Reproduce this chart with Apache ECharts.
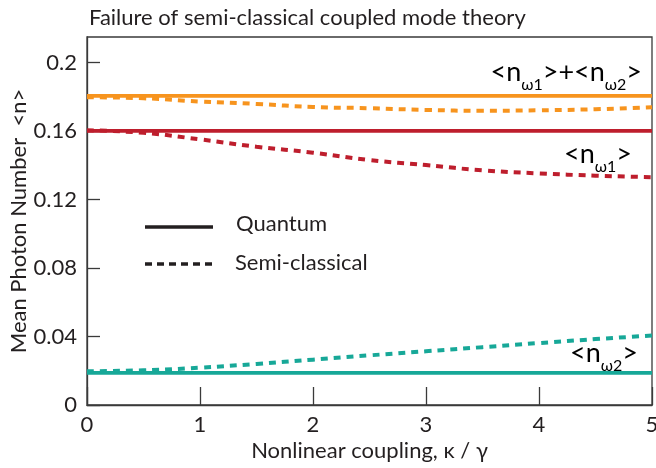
<!DOCTYPE html>
<html>
<head>
<meta charset="utf-8">
<script src="https://cdn.jsdelivr.net/npm/echarts@6/dist/echarts.min.js"></script>
<style>
  html, body { margin: 0; padding: 0; background: #fff; }
  #chart { width: 656px; height: 468px; }
</style>
</head>
<body>
<div id="chart"></div>
<script>
// coupling strength kappa / gamma
const kappa = [0, 0.5, 1, 1.5, 2, 2.5, 3, 3.5, 4, 4.5, 5];

// quantum results (flat)
const sumQuantum = [0.1806, 0.1806, 0.1806, 0.1806, 0.1806, 0.1806, 0.1806, 0.1806, 0.1806, 0.1806, 0.1806];
const n1Quantum  = [0.1601, 0.1601, 0.1601, 0.1601, 0.1601, 0.1601, 0.1601, 0.1601, 0.1601, 0.1601, 0.1601];
const n2Quantum  = [0.0188, 0.0188, 0.0188, 0.0188, 0.0188, 0.0188, 0.0188, 0.0188, 0.0188, 0.0188, 0.0188];

// semi-classical results
const sumSemi = [0.1798, 0.1792, 0.1773, 0.1759, 0.1741, 0.1734, 0.1724, 0.1719, 0.1722, 0.1728, 0.1740];
const n1Semi  = [0.1605, 0.1590, 0.1552, 0.1509, 0.1474, 0.1431, 0.1402, 0.1371, 0.1353, 0.1340, 0.1331];
const n2Semi  = [0.0197, 0.0203, 0.0218, 0.0240, 0.0265, 0.0290, 0.0314, 0.0338, 0.0362, 0.0385, 0.0406];

const yTicks = [0, 0.04, 0.08, 0.12, 0.16, 0.2];

const ORANGE = '#f7941e';
const RED = '#be1e2d';
const TEAL = '#17a898';
const INK = '#231f20';
const AXIS = '#3a3a3a';
const FONT = 'Lato';
const FS = 22;

const pairs = (ys) => kappa.map((k, i) => [k, ys[i]]);

const solid = (name, color, ys) => ({
  name: name, type: 'line', data: pairs(ys),
  showSymbol: false, silent: true, z: 3,
  lineStyle: { color: color, width: 3.8 }
});
const dashed = (name, color, ys) => ({
  name: name, type: 'line', data: pairs(ys), smooth: true,
  showSymbol: false, silent: true, z: 4,
  lineStyle: { color: color, width: 4, type: [7, 6] }
});

// rich text for the <n_ω> labels, subscript sits low
const richLabel = (color) => ({
  m: { fontFamily: FONT, fontSize: 27, color: color, lineHeight: 42 },
  s: { fontFamily: FONT, fontSize: 16, color: color, lineHeight: 16, verticalAlign: 'bottom' }
});

const myChart = echarts.init(document.getElementById('chart'));

const option = {
  animation: false,
  title: {
    text: 'Failure of semi-classical coupled mode theory',
    left: 84, top: 2,
    textStyle: { fontFamily: FONT, fontSize: FS, fontWeight: 'normal', color: INK }
  },
  grid: {
    left: 87, right: 4, top: 37, bottom: 63,
    outerBoundsMode: 'none',
    show: true, borderColor: AXIS, borderWidth: 1.3
  },
  xAxis: {
    type: 'value', min: 0, max: 5, interval: 1,
    name: 'Nonlinear coupling, κ / γ',
    nameLocation: 'middle', nameGap: 35,
    nameMoveOverlap: false,
    nameTextStyle: { fontFamily: FONT, fontSize: FS, color: INK },
    axisLine: { show: true, lineStyle: { color: AXIS, width: 1.3 } },
    axisTick: { show: true, inside: true, length: 18, lineStyle: { color: AXIS, width: 1.3 } },
    axisLabel: { fontFamily: FONT, fontSize: FS, color: INK, margin: 9 },
    splitLine: { show: false }
  },
  yAxis: {
    type: 'value', min: 0, max: 0.215, interval: 0.04,
    name: 'Mean Photon Number  <n>',
    nameLocation: 'middle', nameGap: 57,
    nameMoveOverlap: false,
    nameTextStyle: { fontFamily: FONT, fontSize: FS, color: INK },
    axisLine: { show: true, lineStyle: { color: AXIS, width: 1.3 } },
    axisTick: { show: true, inside: true, length: 13, lineStyle: { color: AXIS, width: 1.3 } },
    axisLabel: {
      fontFamily: FONT, fontSize: FS, color: INK, margin: 10,
      showMaxLabel: false,
      formatter: (v) => {
        const t = yTicks.find((y) => Math.abs(y - v) < 1e-9);
        return t === undefined ? '' : String(t);
      }
    },
    splitLine: { show: false }
  },
  series: [
    solid('sumQ', ORANGE, sumQuantum),
    solid('n1Q', RED, n1Quantum),
    solid('n2Q', TEAL, n2Quantum),
    dashed('sumS', ORANGE, sumSemi),
    dashed('n1S', RED, n1Semi),
    dashed('n2S', TEAL, n2Semi)
  ],
  graphic: [
    // legend
    { type: 'line', shape: { x1: 145, y1: 227, x2: 213, y2: 227 },
      style: { stroke: INK, lineWidth: 3.5 } },
    { type: 'text', x: 236, y: 224,
      style: { text: 'Quantum', fontFamily: FONT, fontSize: FS, fill: INK, verticalAlign: 'middle' } },
    { type: 'line', shape: { x1: 145, y1: 264, x2: 215, y2: 264 },
      style: { stroke: INK, lineWidth: 3.5, lineDash: [7, 5] } },
    { type: 'text', x: 235, y: 263,
      style: { text: 'Semi-classical', fontFamily: FONT, fontSize: FS, fill: INK, verticalAlign: 'middle' } },
    // curve labels
    { type: 'text', x: 642, y: 51,
      style: { text: '{m|<n}{s|ω1}{m|>+<n}{s|ω2}{m|>}', align: 'right', rich: richLabel(ORANGE) } },
    { type: 'text', x: 632, y: 133,
      style: { text: '{m|<n}{s|ω1}{m|>}', align: 'right', rich: richLabel(RED) } },
    { type: 'text', x: 638, y: 332,
      style: { text: '{m|<n}{s|ω2}{m|>}', align: 'right', rich: richLabel(TEAL) } }
  ]
};

myChart.setOption(option);
</script>
</body>
</html>
